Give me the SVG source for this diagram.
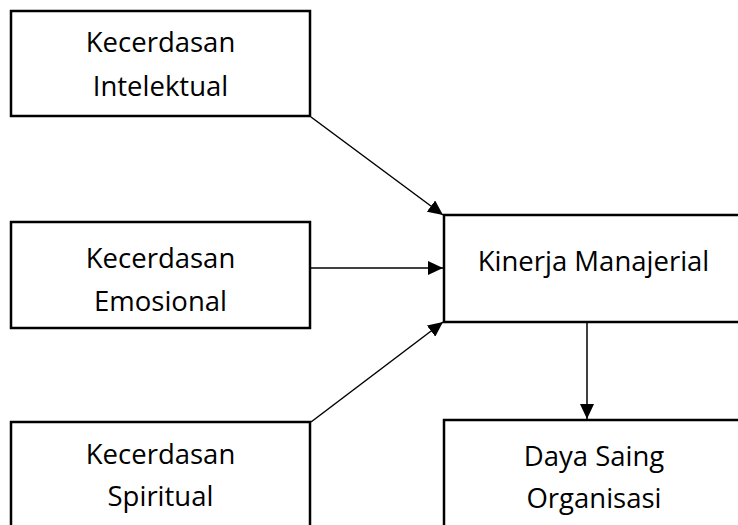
<svg xmlns="http://www.w3.org/2000/svg" width="738" height="525" viewBox="0 0 738 525">
<style>
.box{fill:#fff;stroke:#000;stroke-width:2.5}
.t{font-family:"Open Sans","Liberation Sans",sans-serif;font-size:27.5px;fill:#000;text-anchor:middle}
.c{stroke:#000;stroke-width:1.5;fill:none;marker-end:url(#ah)}
</style>
<defs>
<marker id="ah" markerUnits="userSpaceOnUse" markerWidth="16" markerHeight="14" refX="15" refY="7" orient="auto">
<path d="M0,0 L15,7 L0,14 Z" fill="#000"/>
</marker>
</defs>
<rect width="738" height="525" fill="#fff"/>
<g id="connectors">
<line class="c" x1="311" y1="117" x2="443" y2="215"/>
<line class="c" x1="311" y1="268" x2="443" y2="268"/>
<line class="c" x1="311" y1="422" x2="443" y2="322"/>
<line class="c" x1="587" y1="322" x2="587" y2="419"/>
</g>
<g id="n1">
<rect class="box" x="11" y="11" width="299" height="105"/>
<text class="t" x="160.5" y="52">Kecerdasan</text>
<text class="t" x="160.5" y="96">Intelektual</text>
</g>
<g id="n2">
<rect class="box" x="11" y="222" width="299" height="106"/>
<text class="t" x="160.5" y="268">Kecerdasan</text>
<text class="t" x="160.5" y="311">Emosional</text>
</g>
<g id="n3">
<rect class="box" x="11" y="422" width="299" height="110"/>
<text class="t" x="160.5" y="464">Kecerdasan</text>
<text class="t" x="160.5" y="506">Spiritual</text>
</g>
<g id="n4">
<rect class="box" x="444" y="215" width="300" height="107"/>
<text class="t" x="593.5" y="271">Kinerja Manajerial</text>
</g>
<g id="n5">
<rect class="box" x="444" y="420" width="300" height="110"/>
<text class="t" x="594" y="466">Daya Saing</text>
<text class="t" x="594" y="508">Organisasi</text>
</g>
</svg>
